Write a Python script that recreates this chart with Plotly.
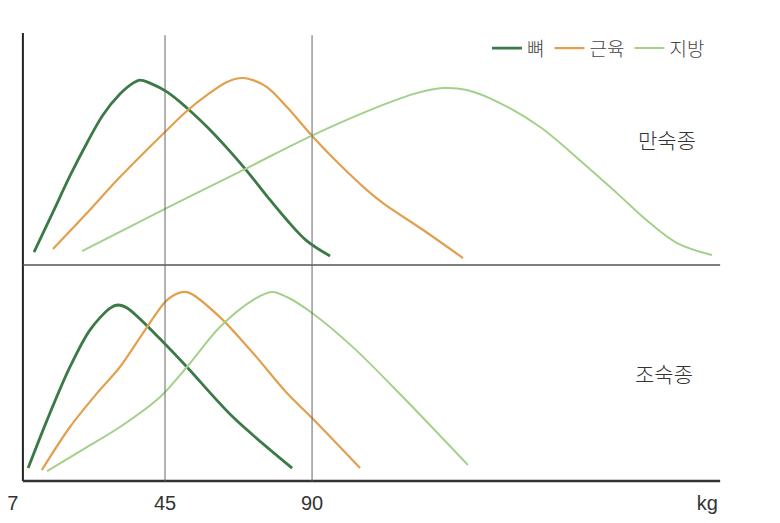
import plotly.graph_objects as go
from plotly.subplots import make_subplots

# live weight (kg) and relative growth intensity
# 만숙종 (late maturing) - top panel
late_bone_x = [4.9, 10.7, 15.9, 21.1, 26.0, 31.2, 35.2, 37.3, 40.4, 45.6, 51.7, 57.9, 64.0, 70.1, 76.2, 82.3, 88.5, 95.5]
late_bone_y = [5.6, 22.8, 38.4, 52.6, 64.7, 73.7, 78.4, 79.7, 78.4, 74.6, 67.7, 59.5, 50.4, 40.5, 29.7, 19.4, 10.3, 3.9]
late_muscle_x = [10.7, 21.1, 31.2, 45.6, 51.7, 57.9, 64.0, 68.6, 71.9, 76.2, 82.3, 90.3, 98.6, 106.8, 111.7, 124.0, 136.2]
late_muscle_y = [6.9, 22.4, 37.9, 58.2, 66.4, 73.3, 78.9, 80.6, 79.7, 76.7, 68.1, 55.2, 43.1, 32.3, 26.7, 15.1, 3.0]
late_fat_x = [19.6, 45.6, 70.1, 90.3, 111.7, 122.0, 130.1, 137.4, 147.5, 159.8, 172.9, 183.3, 193.4, 201.7, 212.4]
late_fat_y = [6.0, 24.6, 41.8, 56.0, 69.0, 74.1, 76.3, 75.4, 69.8, 59.5, 44.0, 31.0, 18.1, 9.5, 4.3]

# 조숙종 (early maturing) - bottom panel
early_bone_x = [3.1, 8.9, 15.9, 22.0, 28.2, 30.6, 33.4, 44.4, 51.7, 65.8, 83.9]
early_bone_y = [6.0, 28.2, 52.8, 69.9, 80.1, 81.5, 80.1, 64.4, 52.8, 29.6, 6.0]
early_muscle_x = [7.3, 15.9, 24.2, 31.2, 39.5, 45.6, 50.2, 52.6, 61.8, 71.9, 82.3, 90.0, 104.7]
early_muscle_y = [5.1, 25.0, 40.7, 52.8, 71.3, 83.8, 87.5, 87.0, 75.9, 59.3, 40.7, 29.2, 6.0]
early_fat_x = [8.9, 21.1, 31.2, 43.5, 51.7, 61.8, 71.9, 77.7, 82.3, 90.0, 102.5, 117.8, 137.7]
early_fat_y = [4.6, 15.7, 25.0, 38.9, 52.8, 71.3, 83.8, 87.5, 85.2, 77.8, 62.0, 38.9, 7.4]

names = ['뼈', '근육', '지방']
colors = ['#3b7a46', '#e2a04e', '#a5d08c']
widths = [2.8, 2.2, 2.0]

tick_pos = [-1.6, 45, 90, 211]
tick_text = ['7', '45', '90', 'kg']
guide_lines = [45, 90]

fig = make_subplots(rows=2, cols=1, shared_xaxes=True, vertical_spacing=0,
                    row_heights=[0.518, 0.482])

late = [(late_bone_x, late_bone_y), (late_muscle_x, late_muscle_y), (late_fat_x, late_fat_y)]
early = [(early_bone_x, early_bone_y), (early_muscle_x, early_muscle_y), (early_fat_x, early_fat_y)]

for i, (xs, ys) in enumerate(late):
    fig.add_trace(go.Scatter(x=xs, y=ys, mode='lines', name=names[i],
                             line=dict(color=colors[i], width=widths[i], shape='spline', smoothing=1.0),
                             legendgroup=names[i]), row=1, col=1)
for i, (xs, ys) in enumerate(early):
    fig.add_trace(go.Scatter(x=xs, y=ys, mode='lines', name=names[i], showlegend=False,
                             line=dict(color=colors[i], width=widths[i], shape='spline', smoothing=0.9),
                             legendgroup=names[i]), row=2, col=1)

# axis frame drawn by hand (the y axis sits right of the "7" label)
fig.add_shape(type='line', xref='x', yref='paper', x0=1.5, x1=1.5, y0=0, y1=1,
              line=dict(color='#222', width=2))
fig.add_shape(type='line', xref='x', yref='paper', x0=1.5, x1=214.9, y0=0.482, y1=0.482,
              line=dict(color='#555', width=1.5))
fig.add_shape(type='line', xref='x', yref='paper', x0=1.5, x1=214.9, y0=0, y1=0,
              line=dict(color='#333', width=2.5))
for g in guide_lines:
    fig.add_shape(type='line', xref='x', yref='paper', x0=g, x1=g, y0=0, y1=0.995,
                  line=dict(color='#666', width=1))

fig.add_annotation(text='만숙종', xref='paper', yref='paper', x=0.915, y=0.763,
                   xanchor='center', yanchor='middle',
                   showarrow=False, font=dict(size=21, color='#333', weight=300))
fig.add_annotation(text='조숙종', xref='paper', yref='paper', x=0.911, y=0.241,
                   xanchor='center', yanchor='middle',
                   showarrow=False, font=dict(size=21, color='#333', weight=300))

xr = [-3.06, 217.3]
fig.update_xaxes(range=xr, showgrid=False, zeroline=False, showline=False, ticks='', automargin=False)
fig.update_xaxes(showticklabels=False, row=1, col=1)
fig.update_xaxes(tickmode='array', tickvals=tick_pos, ticktext=tick_text,
                 tickfont=dict(family='Liberation Sans Narrow, Liberation Sans', size=20, color='#333'),
                 ticklabelstandoff=8, ticklabeloverflow='allow', row=2, col=1)
fig.update_yaxes(range=[0, 100], visible=False)

fig.update_layout(
    width=780, height=523,
    margin=dict(l=0, r=60, t=25, b=50),
    paper_bgcolor='white', plot_bgcolor='white',
    font=dict(family='Noto Sans CJK KR', color='#444'),
    legend=dict(orientation='h', x=0.975, xanchor='right', y=0.966, yanchor='middle',
                font=dict(size=19, color='#444', weight=300), bgcolor='rgba(0,0,0,0)'),
    showlegend=True,
)

fig.write_html('out.html')
